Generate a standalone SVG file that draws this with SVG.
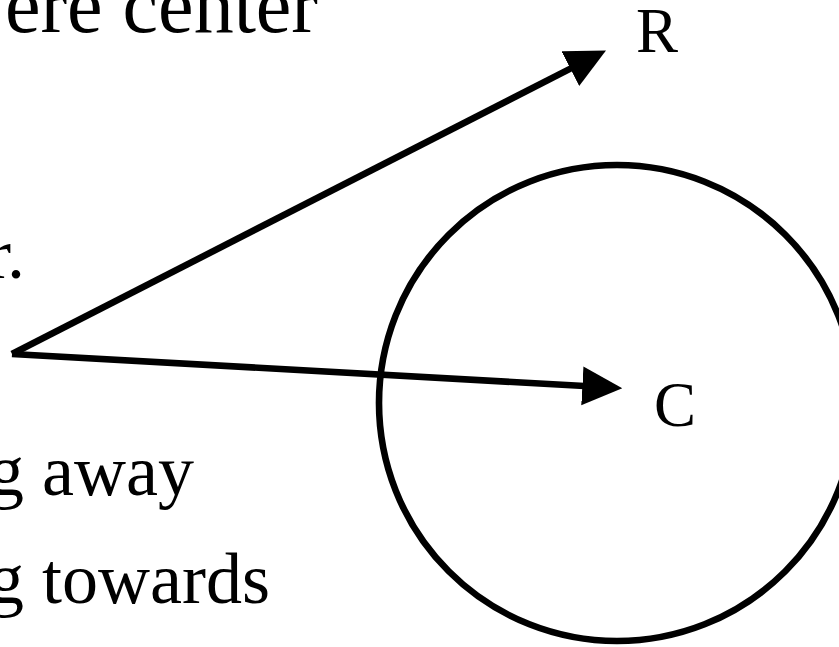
<svg xmlns="http://www.w3.org/2000/svg" width="839" height="647" viewBox="0 0 839 647">
  <style>
    .t { font-family: "Liberation Serif", "Times New Roman", serif; font-size: 72px; fill: #000; }
    .lbl { font-family: "Liberation Serif", "Times New Roman", serif; font-size: 63px; fill: #000; }
    .edge { stroke: #000; stroke-width: 6.6; fill: none; }
  </style>
  <defs>
    <marker id="arrow" markerUnits="userSpaceOnUse" markerWidth="40" markerHeight="40" viewBox="0 0 36 35" refX="6" refY="17.5" orient="auto">
      <path d="M0,0 L36,17.5 L0,35 Z" fill="#000"/>
    </marker>
  </defs>
  <rect width="839" height="647" fill="#fff"/>
  <g id="text">
    <text class="t" x="318" y="32" text-anchor="end" style="font-size:80px">ere center</text>
    <text class="t" x="25" y="278" text-anchor="end">r.</text>
    <text class="t" x="-12" y="495">g away</text>
    <text class="t" x="-12" y="603">g towards</text>
  </g>
  <g id="circle">
    <circle cx="617" cy="403" r="238" fill="none" stroke="#000" stroke-width="6.6"/>
  </g>
  <g id="node-R">
    <text class="lbl" x="636" y="52">R</text>
  </g>
  <g id="node-C">
    <text class="lbl" x="654" y="426">C</text>
  </g>
  <g id="connectors">
    <line class="edge" x1="12" y1="354" x2="576.3" y2="65.6" marker-end="url(#arrow)"/>
    <line class="edge" x1="12" y1="354" x2="589" y2="386.3" marker-end="url(#arrow)"/>
  </g>
</svg>
